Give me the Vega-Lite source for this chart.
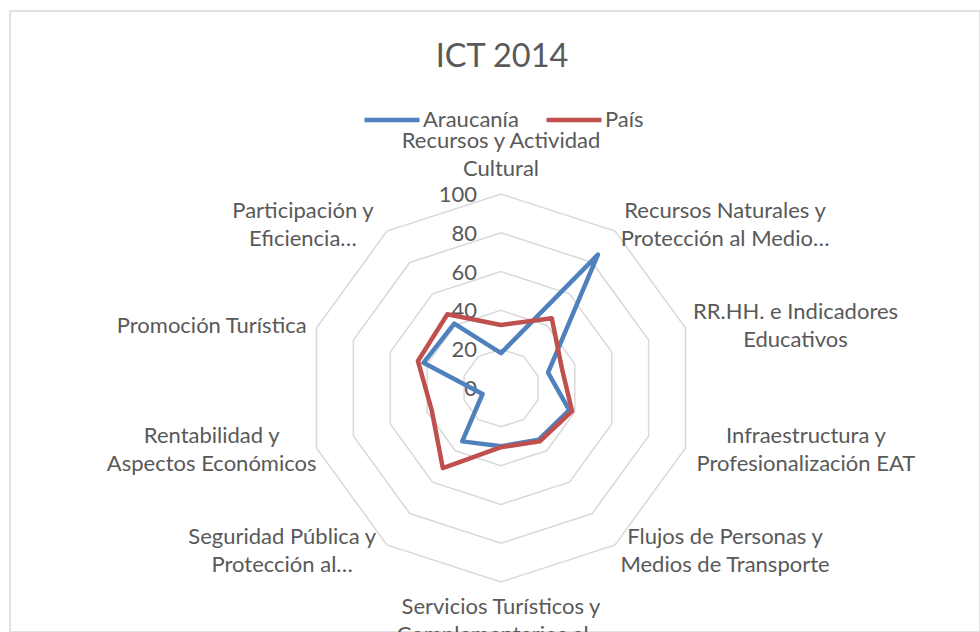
{
  "$schema": "https://vega.github.io/schema/vega-lite/v6.json",
  "width": 970,
  "height": 621,
  "autosize": "none",
  "padding": {"left": 10, "top": 11, "right": 0, "bottom": 0},
  "background": "white",
  "config": {
    "view": {"stroke": "#d9d9d9", "strokeWidth": 1.5},
    "font": "Lato",
    "text": {"font": "Lato"}
  },
  "title": {
    "text": "ICT 2014",
    "font": "Lato",
    "fontSize": 32.5,
    "fontWeight": "normal",
    "color": "#595959",
    "anchor": "middle",
    "frame": "group",
    "orient": "top",
    "baseline": "middle",
    "offset": -78,
    "dx": 7
  },
  "datasets": {
    "scores": [
      {"idx": 0, "series": "Araucanía", "value": 18},
      {"idx": 1, "series": "Araucanía", "value": 85},
      {"idx": 2, "series": "Araucanía", "value": 25.5},
      {"idx": 3, "series": "Araucanía", "value": 37},
      {"idx": 4, "series": "Araucanía", "value": 33},
      {"idx": 5, "series": "Araucanía", "value": 30},
      {"idx": 6, "series": "Araucanía", "value": 34},
      {"idx": 7, "series": "Araucanía", "value": 10},
      {"idx": 8, "series": "Araucanía", "value": 42},
      {"idx": 9, "series": "Araucanía", "value": 41},
      {"idx": 0, "series": "País", "value": 32.5},
      {"idx": 1, "series": "País", "value": 44.5},
      {"idx": 2, "series": "País", "value": 33},
      {"idx": 3, "series": "País", "value": 38.5},
      {"idx": 4, "series": "País", "value": 34},
      {"idx": 5, "series": "País", "value": 30.5},
      {"idx": 6, "series": "País", "value": 51},
      {"idx": 7, "series": "País", "value": 37.5},
      {"idx": 8, "series": "País", "value": 45},
      {"idx": 9, "series": "País", "value": 47}
    ],
    "levels": [
      {"v": 0, "k": [0, 1, 2, 3, 4, 5, 6, 7, 8, 9]},
      {"v": 20, "k": [0, 1, 2, 3, 4, 5, 6, 7, 8, 9]},
      {"v": 40, "k": [0, 1, 2, 3, 4, 5, 6, 7, 8, 9]},
      {"v": 60, "k": [0, 1, 2, 3, 4, 5, 6, 7, 8, 9]},
      {"v": 80, "k": [0, 1, 2, 3, 4, 5, 6, 7, 8, 9]},
      {"v": 100, "k": [0, 1, 2, 3, 4, 5, 6, 7, 8, 9]}
    ],
    "cats": [
      {"idx": 0, "label": ["Recursos y Actividad", "Cultural"]},
      {"idx": 1, "label": ["Recursos Naturales y", "Protección al Medio…"]},
      {"idx": 2, "label": ["RR.HH. e Indicadores", "Educativos"]},
      {"idx": 3, "label": ["Infraestructura y", "Profesionalización EAT"]},
      {"idx": 4, "label": ["Flujos de Personas y", "Medios de Transporte"]},
      {"idx": 5, "label": ["Servicios Turísticos y", "Complementarios al…"]},
      {"idx": 6, "label": ["Seguridad Pública y", "Protección al…"]},
      {"idx": 7, "label": ["Rentabilidad y", "Aspectos Económicos"]},
      {"idx": 8, "label": ["Promoción Turística"]},
      {"idx": 9, "label": ["Participación y", "Eficiencia…"]}
    ]
  },
  "layer": [
    {
      "data": {"name": "levels"},
      "transform": [
        {"filter": "datum.v > 0"},
        {"flatten": ["k"]},
        {"calculate": "datum.k * PI / 5", "as": "a"},
        {"calculate": "datum.v * sin(datum.a)", "as": "gx"},
        {"calculate": "datum.v * cos(datum.a)", "as": "gy"}
      ],
      "mark": {"type": "line", "interpolate": "linear-closed", "stroke": "#d9d9d9", "strokeWidth": 1.5},
      "encoding": {
        "x": {"field": "gx", "type": "quantitative", "scale": {"domain": [-253.09, 246.91], "nice": false, "zero": false}, "axis": null},
        "y": {"field": "gy", "type": "quantitative", "scale": {"domain": [-125.77, 194.33], "nice": false, "zero": false}, "axis": null},
        "detail": {"field": "v", "type": "nominal"},
        "order": {"field": "k", "type": "quantitative"}
      }
    },
    {
      "data": {"name": "levels"},
      "mark": {"type": "text", "align": "right", "baseline": "middle", "dx": -24, "dy": 1, "fontSize": 22, "color": "#595959"},
      "encoding": {
        "x": {"datum": 0, "type": "quantitative"},
        "y": {"field": "v", "type": "quantitative"},
        "text": {"field": "v", "type": "quantitative"}
      }
    },
    {
      "data": {"name": "cats"},
      "transform": [
        {"calculate": "datum.idx * PI / 5", "as": "a"},
        {"calculate": "sin(datum.a)", "as": "s"},
        {"calculate": "cos(datum.a)", "as": "c"},
        {"calculate": "max(length(datum.label[0]), datum.label.length > 1 ? length(datum.label[1]) : 0) * 10.4", "as": "w"},
        {"calculate": "datum.label.length * 28", "as": "h"},
        {"calculate": "abs(datum.s) < 0.01 ? 0 : (datum.s > 0 ? 1 : -1)", "as": "side"},
        {"calculate": "100 * datum.s + (datum.side == 0 ? 0 : datum.side * (6 + datum.w / 2)) / 1.94", "as": "lx"},
        {"calculate": "100 * datum.c + ((datum.side == 0 ? datum.c * (11 + datum.h / 2) : datum.c * 8) + (datum.label.length - 1) * 14) / 1.94", "as": "ly"}
      ],
      "mark": {"type": "text", "align": "center", "baseline": "middle", "lineHeight": 28, "fontSize": 22, "color": "#595959"},
      "encoding": {
        "x": {"field": "lx", "type": "quantitative"},
        "y": {"field": "ly", "type": "quantitative"},
        "text": {"field": "label", "type": "nominal"}
      }
    },
    {
      "data": {"name": "scores"},
      "transform": [
        {"calculate": "datum.idx * PI / 5", "as": "a"},
        {"calculate": "datum.value * sin(datum.a)", "as": "px"},
        {"calculate": "datum.value * cos(datum.a)", "as": "py"}
      ],
      "mark": {"type": "line", "interpolate": "linear-closed", "strokeWidth": 4.5, "strokeJoin": "round", "strokeCap": "round"},
      "encoding": {
        "x": {"field": "px", "type": "quantitative"},
        "y": {"field": "py", "type": "quantitative"},
        "color": {
          "field": "series",
          "type": "nominal",
          "scale": {"domain": ["Araucanía", "País"], "range": ["#4f81bd", "#c0504d"]},
          "legend": {
            "orient": "none",
            "legendX": 352,
            "legendY": 79,
            "direction": "horizontal",
            "title": null,
            "symbolType": "stroke",
            "symbolSize": 3025,
            "symbolStrokeWidth": 4.5,
            "labelFont": "Lato",
            "labelFontSize": 22,
            "labelColor": "#595959",
            "labelOffset": 1,
            "columnPadding": 18,
            "padding": 0,
            "labelLimit": 300
          }
        },
        "order": {"field": "idx", "type": "quantitative"}
      }
    }
  ]
}
